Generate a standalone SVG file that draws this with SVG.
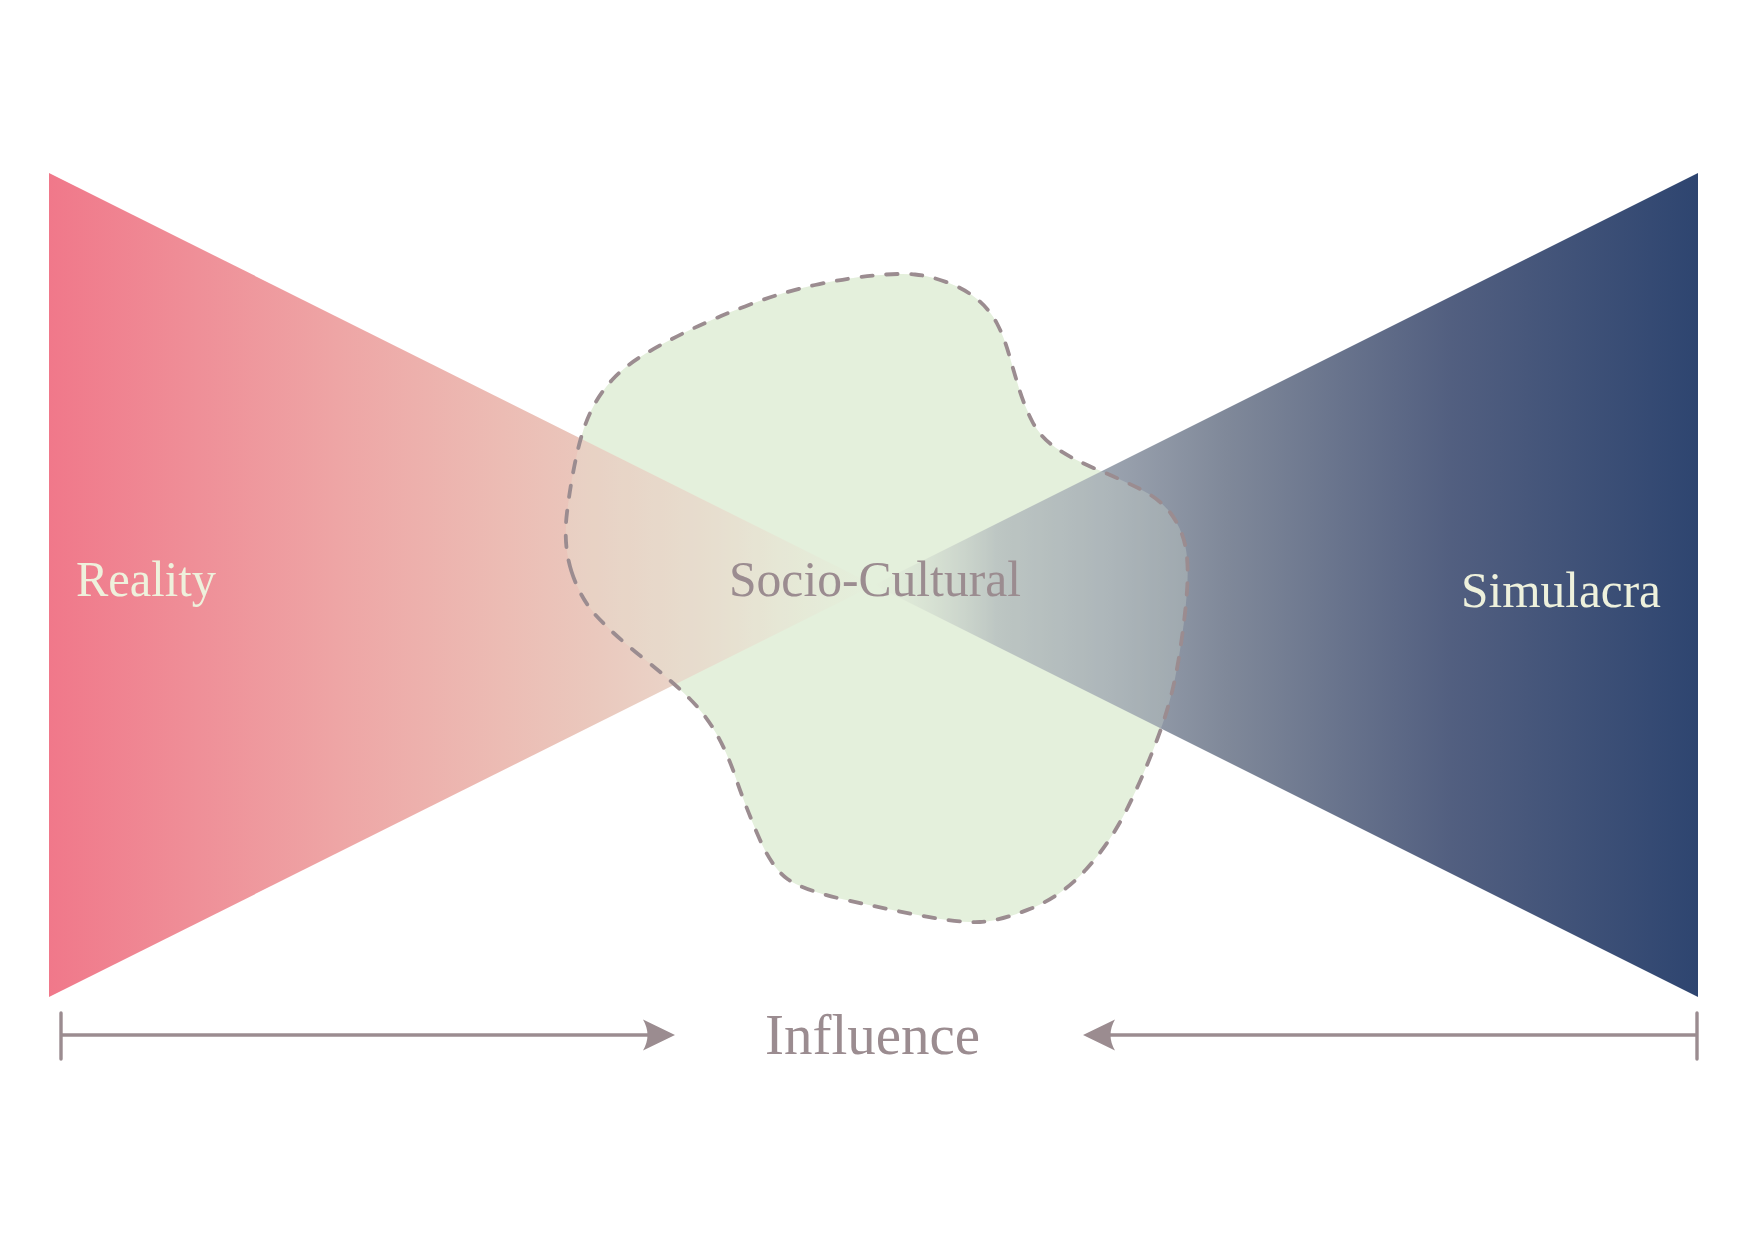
<svg xmlns="http://www.w3.org/2000/svg" width="1749" height="1241" viewBox="0 0 1749 1241">
  <style>
    .lbl { font-family: "Liberation Serif", "Times New Roman", serif; font-size: 51px; }
    .light { fill: #eef1dc; }
    .dark { fill: #9b8c90; }
    .blobfill { fill: #e5f0dc; stroke: none; }
    .blobline { fill: none; stroke: #9b8c90; stroke-width: 3.8; stroke-dasharray: 11.5 13.5; stroke-linecap: round; }
    .conn { stroke: #9b8c90; stroke-width: 3.6; fill: none; }
    .tick { stroke: #9b8c90; stroke-width: 3.4; stroke-linecap: round; }
  </style>
  <defs>
    <linearGradient id="gReal" gradientUnits="userSpaceOnUse" x1="49" y1="0" x2="874" y2="0">
      <stop offset="0" stop-color="#f0788a"/>
      <stop offset="0.35" stop-color="#eea5a5"/>
      <stop offset="0.55" stop-color="#ecbcb4"/>
      <stop offset="0.66" stop-color="#eac8bd"/>
      <stop offset="0.8" stop-color="#e9d6c9" stop-opacity="0.95"/>
      <stop offset="1" stop-color="#e8e0d0" stop-opacity="0"/>
    </linearGradient>
    <linearGradient id="gSim" gradientUnits="userSpaceOnUse" x1="1698" y1="0" x2="874" y2="0">
      <stop offset="0" stop-color="#2e4570"/>
      <stop offset="0.3" stop-color="#525f80"/>
      <stop offset="0.57" stop-color="#7f8899"/>
      <stop offset="0.71" stop-color="#9aa2ae"/>
      <stop offset="0.85" stop-color="#adb5b9" stop-opacity="0.95"/>
      <stop offset="1" stop-color="#c8d0c8" stop-opacity="0"/>
    </linearGradient>
    <path id="blobShape" d="M 571.5,571.5 Q 563,545 567,512.5 Q 571,480 577,453.5 Q 583,427 591.5,410 Q 600,393 612.5,379.5 Q 625,366 645,354 Q 665,342 691,329.5 Q 717,317 750,304.5 Q 783,292 815,285 Q 847,278 873.5,275.5 Q 900,273 915,274.5 Q 930,276 947.5,282.5 Q 965,289 977.5,299.5 Q 990,310 997,323.5 Q 1004,337 1009,354.5 Q 1014,372 1019,388.5 Q 1024,405 1032,421 Q 1040,437 1056,448 Q 1072,459 1096,469 Q 1120,479 1140,489 Q 1160,499 1170.5,513 Q 1181,527 1185,544.5 Q 1189,562 1187,591 Q 1185,620 1178.5,660 Q 1172,700 1157.5,738.5 Q 1143,777 1126.5,810 Q 1110,843 1086,869.5 Q 1062,896 1031,908.5 Q 1000,921 980,922 Q 960,923 920.5,915.5 Q 881,908 842,899 Q 803,890 787.5,879 Q 772,868 758.5,836.5 Q 745,805 736,778.5 Q 727,752 716,733 Q 705,714 689,698 Q 673,682 643,658 Q 613,634 596.5,616 Q 580,598 571.5,571.5 Z"/>
    <marker id="arrow" markerUnits="userSpaceOnUse" viewBox="0 0 32 32" refX="12" refY="16" markerWidth="32" markerHeight="32" orient="auto">
      <path d="M32,16 L0,0.5 Q9,16 0,31.5 Z" fill="#9b8c90"/>
    </marker>
  </defs>

  <rect x="0" y="0" width="1749" height="1241" fill="#ffffff"/>

  <g id="socio-cultural-area">
    <use href="#blobShape" class="blobfill"/>
  </g>

  <g id="reality">
    <polygon points="49,173 49,997 874,585" fill="url(#gReal)"/>
  </g>

  <g id="simulacra">
    <polygon points="1698,173 1698,997 874,585" fill="url(#gSim)"/>
  </g>

  <g id="socio-cultural">
    <use href="#blobShape" class="blobfill" style="fill-opacity:0.25"/>
    <use href="#blobShape" class="blobline"/>
  </g>

  <g id="labels">
    <text class="lbl light" x="76" y="596" textLength="140" lengthAdjust="spacingAndGlyphs">Reality</text>
    <text class="lbl dark" x="729" y="596" textLength="292" lengthAdjust="spacingAndGlyphs">Socio-Cultural</text>
    <text class="lbl light" x="1461" y="607" textLength="200" lengthAdjust="spacingAndGlyphs">Simulacra</text>
  </g>

  <g id="connectors">
    <line class="tick" x1="61" y1="1013" x2="61" y2="1059"/>
    <line class="conn" x1="61" y1="1035" x2="655" y2="1035" marker-end="url(#arrow)"/>
    <line class="tick" x1="1697" y1="1013" x2="1697" y2="1059"/>
    <line class="conn" x1="1697" y1="1035" x2="1103" y2="1035" marker-end="url(#arrow)"/>
  </g>

  <g id="influence">
    <text class="lbl dark" x="765" y="1054" style="font-size:57px" textLength="215" lengthAdjust="spacingAndGlyphs">Influence</text>
  </g>
</svg>
